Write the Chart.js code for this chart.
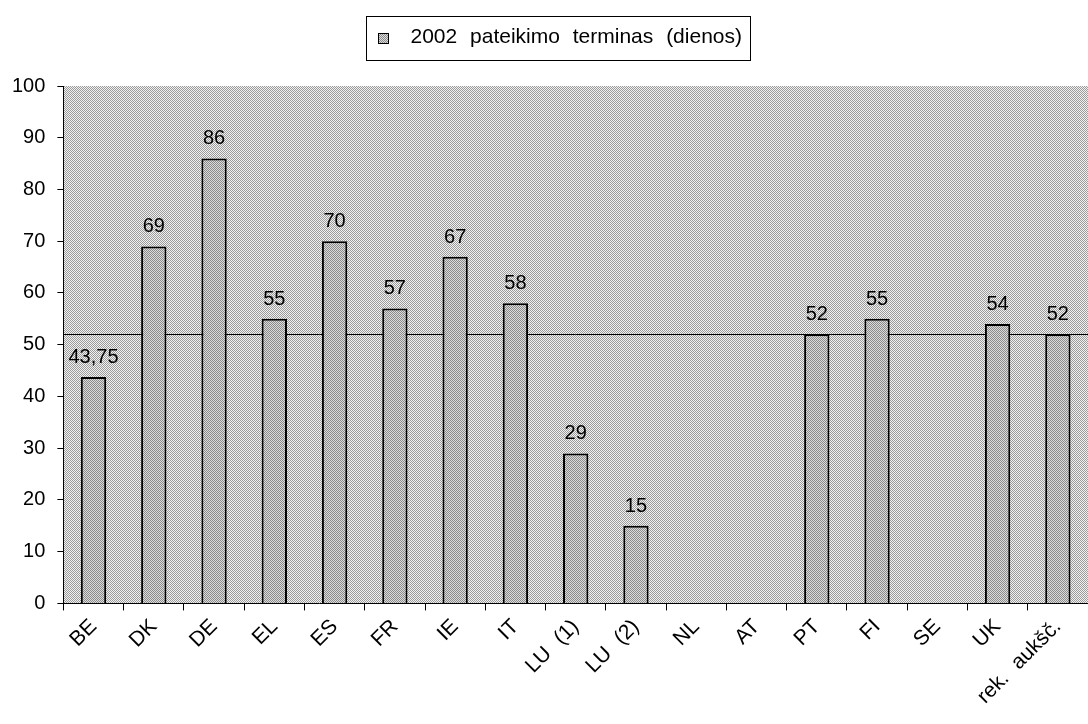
<!DOCTYPE html>
<html>
<head>
<meta charset="utf-8">
<script src="https://cdn.jsdelivr.net/npm/chart.js@4"></script>
<style>
  html, body { margin: 0; padding: 0; background: #fff; }
  #wrap { width: 1088px; height: 724px; }
</style>
</head>
<body>
<div id="wrap"><canvas id="chart" width="1088" height="724"></canvas></div>
<script>
const categories = ['BE', 'DK', 'DE', 'EL', 'ES', 'FR', 'IE', 'IT', 'LU (1)', 'LU (2)', 'NL', 'AT', 'PT', 'FI', 'SE', 'UK', 'rek. aukšč.'];
const terms2002 = [43.75, 69, 86, 55, 70, 57, 67, 58, 29, 15, null, null, 52, 55, null, 54, 52];
const seriesLabel = '2002 pateikimo terminas (dienos)';
const referenceLine = 52;
const yTicks = [0, 10, 20, 30, 40, 50, 60, 70, 80, 90, 100];

const FONT = 'Liberation Sans, Arial, sans-serif';

// dithered fills like the old printed chart
function makePattern(dark, light) {
    const c = document.createElement('canvas');
    c.width = 4; c.height = 4;
    const g = c.getContext('2d');
    for (let y = 0; y < 4; y++) {
        for (let x = 0; x < 4; x++) {
            g.fillStyle = (x + y) % 2 === 0 ? dark : light;
            g.fillRect(x, y, 1, 1);
        }
    }
    return g.createPattern(c, 'repeat');
}
const bgPattern = makePattern('#9a9a9a', '#f2f2f2');
const barPattern = makePattern('#8a8a8a', '#dcdcdc');

// the old chart has slightly wider gaps between words
const wideWords = {
    id: 'wideWords',
    beforeUpdate(chart) { chart.ctx.wordSpacing = '7px'; },
    beforeDraw(chart) { chart.ctx.wordSpacing = '7px'; }
};

const plotBackground = {
    id: 'plotBackground',
    beforeDraw(chart) {
        const { ctx, chartArea: a } = chart;
        ctx.save();
        ctx.fillStyle = bgPattern;
        ctx.fillRect(a.left, a.top, a.right - a.left, a.bottom - a.top);
        ctx.restore();
    }
};

const refLine = {
    id: 'refLine',
    beforeDatasetsDraw(chart) {
        const { ctx, chartArea: a, scales } = chart;
        const y = Math.round(scales.y.getPixelForValue(referenceLine)) + 0.5;
        ctx.save();
        ctx.strokeStyle = '#000';
        ctx.lineWidth = 1;
        ctx.beginPath();
        ctx.moveTo(a.left, y);
        ctx.lineTo(a.right, y);
        ctx.stroke();
        ctx.restore();
    }
};

const valueLabels = {
    id: 'valueLabels',
    afterDatasetsDraw(chart) {
        const { ctx } = chart;
        const meta = chart.getDatasetMeta(0);
        ctx.save();
        ctx.font = '20px ' + FONT;
        ctx.fillStyle = '#000';
        ctx.textAlign = 'center';
        ctx.textBaseline = 'alphabetic';
        meta.data.forEach((bar, i) => {
            const v = terms2002[i];
            if (v === null) return;
            ctx.fillText(String(v).replace('.', ','), bar.x, bar.y - 14);
        });
        ctx.restore();
    }
};

// legend: fixed height, nudged right, own marker and a frame round it
const legendBox = {
    id: 'legendBox',
    beforeInit(chart) {
        const fit = chart.legend.fit;
        chart.legend.fit = function () {
            fit.call(this);
            this.height = 86;
        };
    },
    afterLayout(chart) {
        chart.legend.left += 16;
        chart.legend.right += 16;
    },
    afterDraw(chart) {
        const boxes = chart.legend.legendHitBoxes;
        if (!boxes || !boxes.length) return;
        const b = boxes[0];
        const { ctx } = chart;
        const cy = b.top + b.height / 2;
        ctx.save();
        ctx.fillStyle = barPattern;
        ctx.fillRect(Math.round(b.left), Math.round(cy - 5), 11, 11);
        ctx.strokeStyle = '#000';
        ctx.lineWidth = 1;
        ctx.strokeRect(Math.round(b.left) + 0.5, Math.round(cy - 5) + 0.5, 10, 10);
        ctx.strokeRect(Math.round(b.left - 12) + 0.5, Math.round(cy - 22) + 0.5,
            Math.round(b.width + 20), 44);
        ctx.restore();
    }
};

new Chart(document.getElementById('chart'), {
    type: 'bar',
    data: {
        labels: categories,
        datasets: [{
            label: seriesLabel,
            data: terms2002,
            backgroundColor: barPattern,
            borderColor: '#000',
            borderWidth: 2,
            barPercentage: 0.42,
            categoryPercentage: 1
        }]
    },
    options: {
        responsive: false,
        animation: false,
        layout: { padding: { top: 0, right: 0, left: 0, bottom: 11 } },
        plugins: {
            legend: {
                position: 'top',
                labels: {
                    font: { family: FONT, size: 21 },
                    color: '#000',
                    boxWidth: 22,
                    boxHeight: 11,
                    padding: 27,
                    generateLabels: (chart) => [{
                        text: seriesLabel,
                        fillStyle: 'rgba(0,0,0,0)',
                        strokeStyle: 'rgba(0,0,0,0)',
                        lineWidth: 0,
                        fontColor: '#000',
                        datasetIndex: 0
                    }]
                }
            },
            tooltip: { enabled: false }
        },
        scales: {
            x: {
                grid: {
                    offset: true,
                    drawOnChartArea: false,
                    drawTicks: true,
                    tickLength: 7,
                    color: '#000'
                },
                border: { color: '#000', width: 1 },
                ticks: {
                    font: { family: FONT, size: 21 },
                    color: '#000',
                    minRotation: 45,
                    maxRotation: 45,
                    padding: 4
                }
            },
            y: {
                min: 0,
                max: 100,
                afterBuildTicks: (scale) => { scale.ticks = yTicks.map(v => ({ value: v })); },
                grid: {
                    drawOnChartArea: false,
                    drawTicks: true,
                    tickLength: 6,
                    color: '#000'
                },
                border: { color: '#000', width: 1 },
                ticks: {
                    font: { family: FONT, size: 20 },
                    color: '#000',
                    padding: 12
                }
            }
        }
    },
    plugins: [wideWords, plotBackground, refLine, valueLabels, legendBox]
});
</script>
</body>
</html>
